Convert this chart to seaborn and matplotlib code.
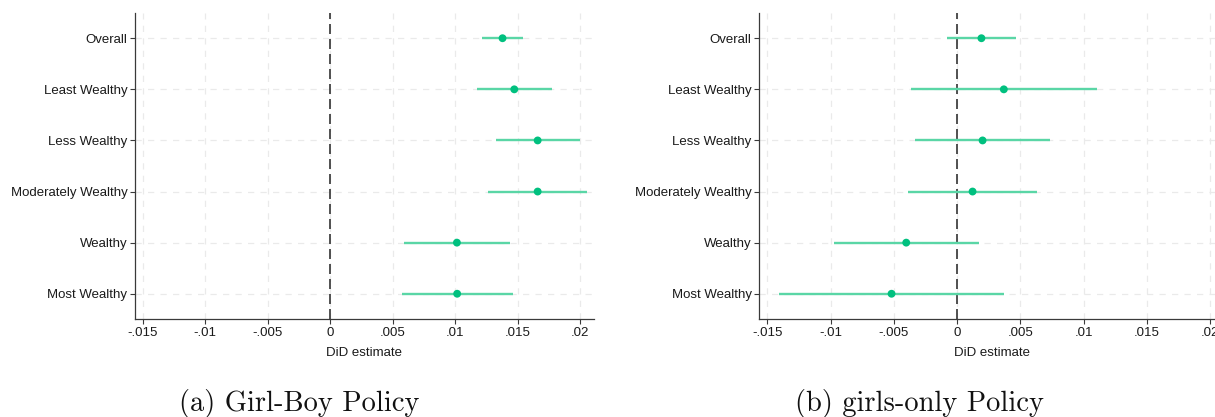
import matplotlib
matplotlib.use("Agg")
import matplotlib.pyplot as plt
import seaborn as sns
import pandas as pd

# Wealth groups, top to bottom
groups = ["Overall", "Least Wealthy", "Less Wealthy", "Moderately Wealthy",
          "Wealthy", "Most Wealthy"]

# Panel (a): Girl-Boy policy DiD estimates with 95% CI
girlboy_est = [0.01378, 0.01472, 0.01659, 0.01659, 0.01013, 0.01015]
girlboy_lo = [0.01213, 0.01176, 0.01322, 0.01263, 0.00592, 0.00574]
girlboy_hi = [0.01543, 0.01774, 0.01996, 0.02055, 0.01434, 0.01458]

# Panel (b): girls-only policy DiD estimates with 95% CI
girlsonly_est = [0.00192, 0.00369, 0.00201, 0.00122, -0.00402, -0.00518]
girlsonly_lo = [-0.00076, -0.00363, -0.00332, -0.00390, -0.00976, -0.01410]
girlsonly_hi = [0.00466, 0.01104, 0.00735, 0.00631, 0.00171, 0.00373]

xticks = [-0.015, -0.01, -0.005, 0, 0.005, 0.01, 0.015, 0.02]
xticklabels = ["-.015", "-.01", "-.005", "0", ".005", ".01", ".015", ".02"]

captions = ["(a) Girl-Boy Policy", "(b) girls-only Policy"]

sns.set_theme(style="white")
plt.rcParams["font.family"] = ["Liberation Sans", "DejaVu Sans"]

line_color = "#5ad6a6"
dot_color = "#00c07f"
spine_color = "#3a3a3a"

fig = plt.figure(figsize=(12.15, 4.17), dpi=100)
positions = [[0.1111, 0.2343, 0.3778, 0.7353],
             [0.6249, 0.2343, 0.3827, 0.7353]]
panels = [(girlboy_est, girlboy_lo, girlboy_hi),
          (girlsonly_est, girlsonly_lo, girlsonly_hi)]
caption_x = [0.2465, 0.7565]

for pos, (est, lo, hi), cap, cx in zip(positions, panels, captions, caption_x):
    ax = fig.add_axes(pos)
    df = pd.DataFrame({"group": groups, "est": est, "lo": lo, "hi": hi,
                       "ypos": range(len(groups))})

    # light dashed grid
    for xt in xticks:
        ax.axvline(xt, color="#eaeaea", lw=0.9, ls=(0, (5, 5)), zorder=0)
    for yp in df["ypos"]:
        ax.axhline(yp, color="#eaeaea", lw=0.9, ls=(0, (5, 5)), zorder=0)

    # reference line at zero
    ax.axvline(0, color="#333333", lw=1.2, ls=(0, (6, 3)), zorder=1)

    # confidence intervals
    ax.hlines(df["ypos"], df["lo"], df["hi"], color=line_color, lw=1.7, zorder=2)
    # point estimates
    sns.scatterplot(data=df, x="est", y="ypos", ax=ax, color=dot_color,
                    s=32, edgecolor="none", zorder=3, legend=False)

    ax.set_xlim(-0.01563, 0.0211)
    ax.set_ylim(len(groups) - 0.5, -0.5)
    ax.set_xticks(xticks)
    ax.set_xticklabels(xticklabels)
    ax.set_yticks(list(df["ypos"]))
    ax.set_yticklabels(groups)
    ax.set_xlabel("DiD estimate", fontsize=9.5, color="#1a1a1a", labelpad=6)
    ax.set_ylabel("")

    for side in ["top", "right"]:
        ax.spines[side].set_visible(False)
    for side in ["left", "bottom"]:
        ax.spines[side].set_color(spine_color)
        ax.spines[side].set_linewidth(0.9)
    ax.tick_params(axis="both", which="both", direction="out", length=3.5,
                   width=0.8, color=spine_color, labelsize=9.5,
                   labelcolor="#1a1a1a", pad=2, left=True, bottom=True)
    ax.grid(False)

    fig.text(cx, 0.014, cap, ha="center", va="baseline", fontsize=20.5,
             family="cmr10", color="#111111")

fig.savefig("out.png", dpi=100)
